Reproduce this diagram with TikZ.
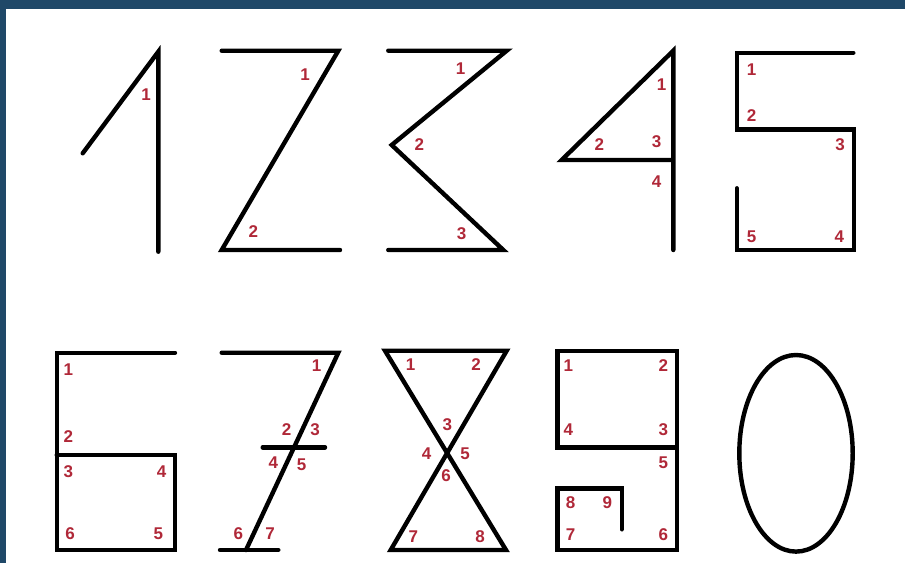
\documentclass[tikz,border=0pt]{standalone}
\usepackage{fontspec}
\setmainfont{Liberation Sans}
\definecolor{frame}{HTML}{1F4868}
\definecolor{lab}{HTML}{B02838}
\begin{document}
\begin{tikzpicture}[x=1pt,y=-1pt,
  stroke/.style={line width=4.4pt,line cap=round,line join=miter,black},
  lbl/.style={text=lab,font=\fontsize{17}{17}\selectfont\bfseries,inner sep=0pt}]
\useasboundingbox (0,0) rectangle (905,563);
\fill[frame] (0,0) rectangle (905,563);
\fill[white] (6,9) rectangle (905,563);
% digit 1
\coordinate (a1) at (82.7,153.3); \coordinate (a2) at (158.3,51.7); \coordinate (a3) at (158.3,251.7);
\draw[stroke] (a1) -- (a2) -- (a3);
\node[lbl] (l1a) at (146,95) {1};
% digit 2
\coordinate (b1) at (221.7,50.7); \coordinate (b2) at (338.3,50.7); \coordinate (b3) at (221.7,250); \coordinate (b4) at (340,250);
\draw[stroke] (b1) -- (b2) -- (b3) -- (b4);
\node[lbl] (l2a) at (305,75) {1};
\node[lbl] (l2b) at (253.3,231.7) {2};
% digit 3
\coordinate (c1) at (388.3,50.7); \coordinate (c2) at (506.7,50.7); \coordinate (c3) at (391.7,145); \coordinate (c4) at (503.3,250); \coordinate (c5) at (388.3,250);
\draw[stroke] (c1) -- (c2) -- (c3) -- (c4) -- (c5);
\node[lbl] (l3a) at (460.7,68.3) {1};
\node[lbl] (l3b) at (419.3,145) {2};
\node[lbl] (l3c) at (461.7,233.3) {3};
% digit 4
\coordinate (d1) at (673.3,250); \coordinate (d2) at (673.3,50.7); \coordinate (d3) at (561.7,160); \coordinate (d4) at (673.3,160);
\draw[stroke] (d1) -- (d2) -- (d3) -- (d4);
\node[lbl] (l4a) at (661.7,85) {1};
\node[lbl] (l4b) at (599.3,145) {2};
\node[lbl] (l4c) at (656.7,141.7) {3};
\node[lbl] (l4d) at (656.7,181.7) {4};
% digit 5
\coordinate (e1) at (853.3,52.7); \coordinate (e2) at (736.7,52.7); \coordinate (e3) at (736.7,129.3); \coordinate (e4) at (854,129.3);
\coordinate (e5) at (854,250); \coordinate (e6) at (736.7,250); \coordinate (e7) at (736.7,188.3);
\draw[stroke] (e1) -- (e2) -- (e3) -- (e4) -- (e5) -- (e6) -- (e7);
\node[lbl] (l5a) at (751.7,70) {1};
\node[lbl] (l5b) at (751.7,116) {2};
\node[lbl] (l5c) at (840,145) {3};
\node[lbl] (l5d) at (839.3,236.7) {4};
\node[lbl] (l5e) at (751.7,236.7) {5};
% digit 6
\coordinate (f1) at (175,352.7); \coordinate (f2) at (56.7,352.7); \coordinate (f3) at (56.7,550); \coordinate (f4) at (175,550);
\coordinate (f5) at (175,455); \coordinate (f6) at (56.7,455);
\draw[stroke] (f1) -- (f2) -- (f3) -- (f4) -- (f5) -- (f6);
\node[lbl] (l6a) at (68.3,370) {1};
\node[lbl] (l6b) at (68.3,436.7) {2};
\node[lbl] (l6c) at (68.3,471.7) {3};
\node[lbl] (l6d) at (161.7,471.7) {4};
\node[lbl] (l6e) at (158.3,533.3) {5};
\node[lbl] (l6f) at (70,533.3) {6};
% digit 7
\coordinate (g1) at (221.7,352.7); \coordinate (g2) at (338.3,352.7); \coordinate (g3) at (246,550);
\coordinate (g4) at (220,550); \coordinate (g5) at (278.3,550);
\coordinate (g6) at (262.7,447.3); \coordinate (g7) at (325,447.3);
\draw[stroke] (g1) -- (g2) -- (g3);
\draw[stroke] (g4) -- (g5);
\draw[stroke] (g6) -- (g7);
\node[lbl] (l7a) at (316.7,366) {1};
\node[lbl] (l7b) at (286.7,430) {2};
\node[lbl] (l7c) at (315,430) {3};
\node[lbl] (l7d) at (273.3,462.7) {4};
\node[lbl] (l7e) at (301.7,465) {5};
\node[lbl] (l7f) at (238.3,533.3) {6};
\node[lbl] (l7g) at (270,533.3) {7};
% digit 8
\coordinate (h1) at (385,350.7); \coordinate (h2) at (506.7,350.7); \coordinate (h3) at (390.7,550); \coordinate (h4) at (506,550);
\draw[stroke] (h3) -- (h4) -- (h1) -- (h2) -- cycle;
\node[lbl] (l8a) at (410.7,365) {1};
\node[lbl] (l8b) at (476,365) {2};
\node[lbl] (l8c) at (447.3,425) {3};
\node[lbl] (l8d) at (426.7,454) {4};
\node[lbl] (l8e) at (465,454) {5};
\node[lbl] (l8f) at (446,476) {6};
\node[lbl] (l8g) at (413.3,536.7) {7};
\node[lbl] (l8h) at (480,536.7) {8};
% digit 9
\coordinate (k1) at (557.3,447.3); \coordinate (k2) at (557.3,350.7); \coordinate (k3) at (676.7,350.7); \coordinate (k4) at (676.7,447.3);
\coordinate (k5) at (676.7,550); \coordinate (k6) at (557.3,550); \coordinate (k7) at (557.3,488.3); \coordinate (k8) at (621.7,488.3); \coordinate (k9) at (621.7,529.3);
\draw[stroke] (k4) -- (k1) -- (k2) -- (k3) -- (k4) -- (k5) -- (k6) -- (k7) -- (k8) -- (k9);
\node[lbl] (l9a) at (568.3,366) {1};
\node[lbl] (l9b) at (663.3,366) {2};
\node[lbl] (l9c) at (663.3,429.3) {3};
\node[lbl] (l9d) at (568.3,429.3) {4};
\node[lbl] (l9e) at (663.3,462.7) {5};
\node[lbl] (l9f) at (663.3,535) {6};
\node[lbl] (l9g) at (570.7,535) {7};
\node[lbl] (l9h) at (570.7,502.7) {8};
\node[lbl] (l9i) at (607.3,502.7) {9};
% digit 0
\coordinate (z0) at (796,453.3);
\draw[stroke] (z0) ellipse [x radius=56.7, y radius=98.3];
\end{tikzpicture}
\end{document}
